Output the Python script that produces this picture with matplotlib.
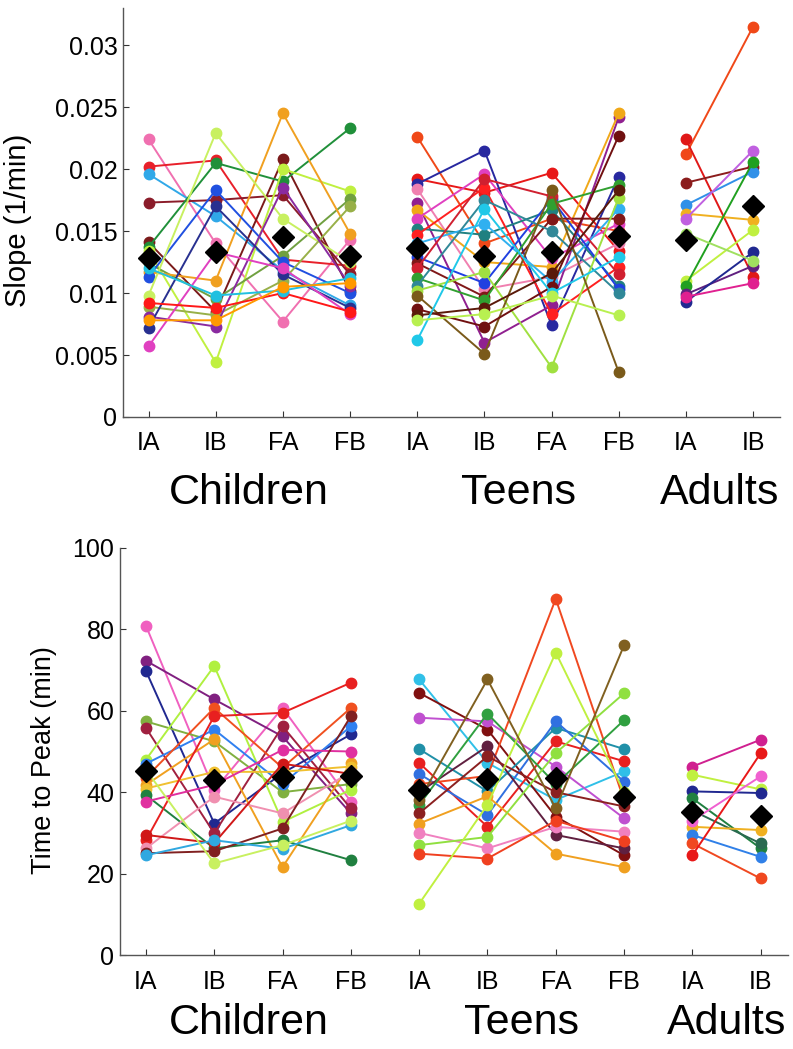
import numpy as np
import matplotlib
matplotlib.use("Agg")
from matplotlib import pyplot as plt
from matplotlib import transforms

plt.rcParams['font.family'] = ['Liberation Sans', 'DejaVu Sans']

conditions_long = ['IA', 'IB', 'FA', 'FB']
conditions_short = ['IA', 'IB']
group_names = ['Children', 'Teens', 'Adults']
tick_labels = conditions_long + conditions_long + conditions_short

# ---- Slope (1/min): one row per subject, columns IA IB FA FB ----
children_slope = [
    [0.0224, 0.0140, 0.0077, 0.0143],
    [0.0202, 0.0207, 0.0127, 0.0122],
    [0.0196, 0.0162, 0.0118, 0.0090],
    [0.0173, 0.0175, 0.0179, 0.0115],
    [0.0141, 0.0085, 0.0208, 0.0102],
    [0.0137, 0.0205, 0.0190, 0.0233],
    [0.0134, 0.0044, 0.0200, 0.0182],
    [0.0124, 0.0095, 0.0130, 0.0176],
    [0.0117, 0.0110, 0.0245, 0.0148],
    [0.0113, 0.0183, 0.0125, 0.0100],
    [0.0098, 0.0229, 0.0160, 0.0125],
    [0.0089, 0.0082, 0.0110, 0.0170],
    [0.0081, 0.0073, 0.0185, 0.0106],
    [0.0072, 0.0170, 0.0115, 0.0088],
    [0.0057, 0.0133, 0.0120, 0.0083],
    [0.0092, 0.0088, 0.0100, 0.0085],
    [0.0120, 0.0098, 0.0102, 0.0112],
    [0.0078, 0.0078, 0.0105, 0.0108],
]
children_slope_colors = ['#f070b0', '#e8202a', '#30a8e8', '#8b1c2a', '#7a1a1a', '#20903a',
                         '#c0f040', '#70a040', '#f0a020', '#2050e0', '#c8f060', '#98b048',
                         '#8a2aa0', '#283090', '#e040c0', '#ff1818', '#20c0e0', '#ff9900']

teens_slope = [
    [0.0226, 0.0140, 0.0160, 0.0150],
    [0.0192, 0.0181, 0.0197, 0.0134],
    [0.0188, 0.0215, 0.0074, 0.0194],
    [0.0184, 0.0103, 0.0113, 0.0140],
    [0.0173, 0.0060, 0.0090, 0.0242],
    [0.0167, 0.0125, 0.0121, 0.0245],
    [0.0160, 0.0196, 0.0128, 0.0156],
    [0.0152, 0.0147, 0.0167, 0.0106],
    [0.0147, 0.0185, 0.0083, 0.0121],
    [0.0140, 0.0156, 0.0109, 0.0168],
    [0.0129, 0.0108, 0.0176, 0.0103],
    [0.0124, 0.0097, 0.0160, 0.0160],
    [0.0120, 0.0192, 0.0178, 0.0115],
    [0.0112, 0.0094, 0.0172, 0.0187],
    [0.0106, 0.0175, 0.0150, 0.0100],
    [0.0102, 0.0117, 0.0040, 0.0177],
    [0.0098, 0.0051, 0.0183, 0.0036],
    [0.0087, 0.0073, 0.0105, 0.0227],
    [0.0082, 0.0088, 0.0116, 0.0183],
    [0.0062, 0.0168, 0.0100, 0.0129],
    [0.0078, 0.0083, 0.0098, 0.0082],
]
teens_slope_colors = ['#f04818', '#e81818', '#2828a0', '#f080b0', '#902090', '#f0a818',
                      '#e040c0', '#208080', '#ff2020', '#30b0f0', '#2040e0', '#801818',
                      '#d02030', '#30a030', '#308898', '#a0e040', '#7a5a1a', '#701010',
                      '#5a1a0a', '#20c8e8', '#b8f050']

adults_slope = [
    [0.0212, 0.0315],
    [0.0224, 0.0113],
    [0.0189, 0.0202],
    [0.0171, 0.0198],
    [0.0164, 0.0159],
    [0.0160, 0.0215],
    [0.0110, 0.0151],
    [0.0106, 0.0206],
    [0.0099, 0.0122],
    [0.0093, 0.0133],
    [0.0097, 0.0108],
    [0.0148, 0.0126],
]
adults_slope_colors = ['#f04818', '#e01818', '#8b1c1c', '#3090e8', '#f0b020', '#c060e0',
                       '#c0f040', '#20a020', '#602080', '#202890', '#e02090', '#a0e060']

slope_means = [0.0128, 0.0133, 0.0145, 0.0130,
               0.0136, 0.0130, 0.0133, 0.0146,
               0.0143, 0.0170]

# ---- Time to Peak (min) ----
children_ttp = [
    [80.9, 40.5, 60.7, 37.7],
    [72.3, 62.8, 53.7, 34.8],
    [69.8, 32.3, 44.7, 54.2],
    [57.4, 52.5, 40.0, 42.0],
    [55.8, 29.9, 56.2, 36.0],
    [48.0, 71.0, 32.7, 40.6],
    [47.0, 55.4, 42.0, 56.2],
    [43.6, 60.7, 46.0, 60.7],
    [41.8, 53.0, 21.6, 47.2],
    [40.9, 45.0, 45.0, 46.3],
    [39.3, 26.2, 28.2, 23.3],
    [28.2, 58.7, 59.5, 66.9],
    [37.7, 41.8, 50.4, 50.0],
    [26.2, 38.9, 34.8, 45.0],
    [29.5, 27.5, 47.0, 44.5],
    [25.0, 25.5, 31.1, 58.7],
    [24.5, 28.2, 26.1, 31.9],
    [45.5, 22.5, 27.0, 33.0],
]
children_ttp_colors = ['#f060c0', '#802080', '#202890', '#80b040', '#a02040', '#b0f040',
                       '#3080f0', '#f05020', '#f0a020', '#f0c030', '#208040', '#e82020',
                       '#e030a0', '#f090b0', '#d01818', '#802020', '#30a8e0', '#c8f060']

teens_ttp = [
    [67.7, 47.2, 38.1, 45.1],
    [64.4, 55.4, 34.0, 24.5],
    [58.3, 57.4, 46.3, 33.6],
    [50.6, 40.2, 55.8, 50.6],
    [47.2, 31.5, 52.5, 47.6],
    [44.5, 34.4, 57.4, 42.6],
    [42.0, 44.0, 87.5, 38.0],
    [40.0, 51.3, 29.5, 26.2],
    [36.9, 59.3, 42.0, 57.7],
    [34.8, 48.8, 40.0, 36.5],
    [32.3, 39.0, 24.9, 21.6],
    [30.0, 26.2, 31.5, 30.3],
    [27.0, 29.0, 49.6, 64.3],
    [24.9, 23.7, 33.0, 28.0],
    [12.6, 36.9, 74.3, 40.0],
    [38.0, 67.7, 36.0, 76.1],
]
teens_ttp_colors = ['#30c0e8', '#801010', '#c050d0', '#2090a8', '#e82020', '#3070e0',
                    '#f04820', '#602040', '#30a040', '#8b2020', '#f0a020', '#f080c0',
                    '#90e040', '#f04020', '#c0f040', '#806020']

adults_ttp = [
    [46.3, 52.9],
    [44.3, 40.7],
    [40.2, 39.8],
    [38.5, 26.2],
    [35.5, 27.4],
    [31.5, 30.7],
    [29.5, 24.1],
    [27.4, 18.8],
    [24.5, 49.6],
    [33.0, 43.9],
]
adults_ttp_colors = ['#d02090', '#c0f040', '#202890', '#208040', '#2a6a50', '#f0b020',
                     '#3080e8', '#f04820', '#e81818', '#f060d0']

ttp_means = [45.2, 43.0, 43.8, 44.0,
             40.6, 43.2, 43.5, 38.9,
             35.2, 34.2]

group_x = [[1, 2, 3, 4], [5, 6, 7, 8], [9, 10]]
group_label_x = [2.5, 6.5, 9.5]


def draw_panel(ax, groups, colors, means, ylim, yticks, ytick_fmt,
               ylabel, ylabel_size, ylabel_xy, label_y, xpad):
    for xs, subjects, cols in zip(group_x, groups, colors):
        for vals, c in zip(subjects, cols):
            ax.plot(xs, vals, '-o', color=c, lw=1.4, ms=7.5, mec=c, mfc=c, zorder=2)
    ax.plot(np.arange(1, 11), means, 'D', color='black', ms=11, ls='none', zorder=5)

    ax.set_xlim(0.62, 10.4)
    ax.set_ylim(*ylim)
    ax.set_xticks(np.arange(1, 11))
    ax.set_xticklabels(tick_labels)
    ax.set_yticks(yticks)
    ax.set_yticklabels([ytick_fmt(v) for v in yticks])
    ax.tick_params(direction='in', length=4, width=0.8, labelsize=18, colors='#333333',
                   labelcolor='black')
    ax.tick_params(axis='x', pad=xpad)
    ax.tick_params(axis='y', pad=4)
    for side in ['top', 'right']:
        ax.spines[side].set_visible(False)
    for side in ['left', 'bottom']:
        ax.spines[side].set_color('#555555')
        ax.spines[side].set_linewidth(1.0)
    ax.set_ylabel(ylabel, fontsize=ylabel_size)
    ax.yaxis.set_label_coords(*ylabel_xy)

    trans = transforms.blended_transform_factory(ax.transData, ax.transAxes)
    for gx, name in zip(group_label_x, group_names):
        ax.text(gx, label_y, name, transform=trans, ha='center', va='center', fontsize=31)


fig = plt.figure(figsize=(7.93, 10.49), dpi=100)
ax_top = fig.add_axes([0.1551, 0.6025, 0.8285, 0.3899])
ax_bot = fig.add_axes([0.1513, 0.0896, 0.8424, 0.388])

draw_panel(ax_top,
           [children_slope, teens_slope, adults_slope],
           [children_slope_colors, teens_slope_colors, adults_slope_colors],
           slope_means, (0, 0.033),
           [0, 0.005, 0.01, 0.015, 0.02, 0.025, 0.03],
           lambda v: '0' if v == 0 else ('%g' % v),
           'Slope (1/min)', 21, (-0.138, 0.48), -0.185, 10)

draw_panel(ax_bot,
           [children_ttp, teens_ttp, adults_ttp],
           [children_ttp_colors, teens_ttp_colors, adults_ttp_colors],
           ttp_means, (0, 100),
           [0, 20, 40, 60, 80, 100],
           lambda v: '%d' % v,
           'Time to Peak (min)', 19.5, (-0.095, 0.48), -0.168, 11)

fig.savefig('out.png', dpi=100)
